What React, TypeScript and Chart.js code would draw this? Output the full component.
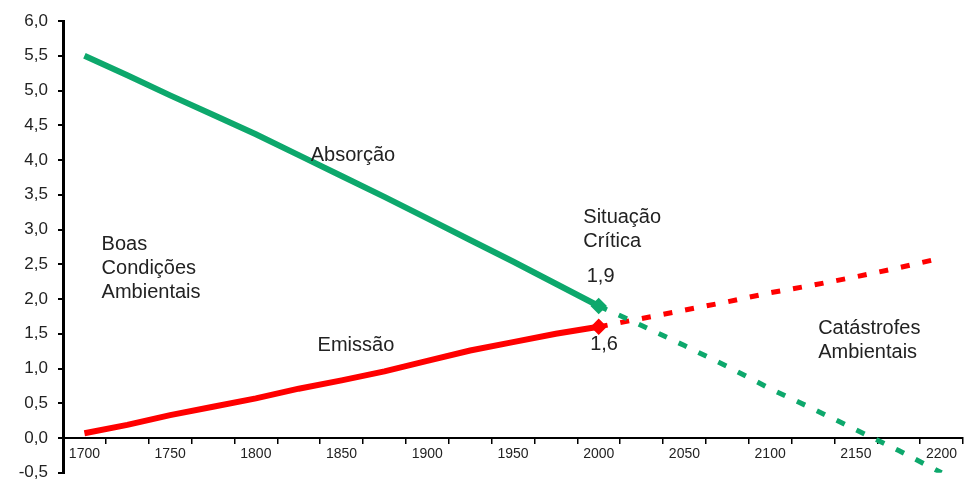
import React, { useEffect, useRef } from "react";
import { Chart, registerables } from "chart.js";

Chart.register(...registerables);

// Categories every 25 years (labels shown every 50 years)
const years = [1700, 1725, 1750, 1775, 1800, 1825, 1850, 1875, 1900, 1925, 1950, 1975, 2000, 2025, 2050, 2075, 2100, 2125, 2150, 2175, 2200];

// Absorção (green)
const absorcaoHistorico = [5.5, 5.22, 4.93, 4.65, 4.37, 4.07, 3.77, 3.47, 3.16, 2.85, 2.54, 2.22, 1.9, null, null, null, null, null, null, null, null];
const absorcaoProjecao = [null, null, null, null, null, null, null, null, null, null, null, null, 1.9, 1.62, 1.33, 1.03, 0.71, 0.42, 0.12, -0.18, -0.5];

// Emissão (red)
const emissaoHistorico = [0.07, 0.19, 0.33, 0.45, 0.57, 0.71, 0.83, 0.96, 1.11, 1.26, 1.38, 1.5, 1.6, null, null, null, null, null, null, null, null];
const emissaoProjecao = [null, null, null, null, null, null, null, null, null, null, null, null, 1.6, 1.72, 1.84, 1.96, 2.09, 2.2, 2.32, 2.45, 2.59];

const yTicks = [-0.5, 0, 0.5, 1, 1.5, 2, 2.5, 3, 3.5, 4, 4.5, 5, 5.5, 6];

// Text annotations anchored in data coordinates (year, value)
const annotations = [
  { lines: ["Absorção"], year: 1832, value: 4.06 },
  { lines: ["Boas", "Condições", "Ambientais"], year: 1710, value: 2.78 },
  { lines: ["Situação", "Crítica"], year: 1991, value: 3.18 },
  { lines: ["1,9"], year: 1993, value: 2.32 },
  { lines: ["1,6"], year: 1995, value: 1.34 },
  { lines: ["Emissão"], year: 1836, value: 1.33 },
  { lines: ["Catástrofes", "Ambientais"], year: 2128, value: 1.58 },
];

const GREEN = "#0DA86C";
const RED = "#FF0000";
const FONT = "'Liberation Sans', Arial, sans-serif";

const annotationPlugin = {
  id: "textAnnotations",
  afterDatasetsDraw(chart: any) {
    const { ctx, scales } = chart;
    const x = scales.x;
    const y = scales.y;
    ctx.save();
    ctx.fillStyle = "#222";
    ctx.font = `20px ${FONT}`;
    ctx.textAlign = "left";
    ctx.textBaseline = "middle";
    annotations.forEach((a) => {
      const px = x.getPixelForValue((a.year - years[0]) / 25);
      const py = y.getPixelForValue(a.value);
      a.lines.forEach((line, i) => {
        ctx.fillText(line, px, py + i * 24);
      });
    });
    ctx.restore();
  },
};

export default function App() {
  const canvasRef = useRef<HTMLCanvasElement | null>(null);

  useEffect(() => {
    if (!canvasRef.current) return;
    const endPoint = (ctx: any) => (ctx.dataIndex === 12 ? 4 : 0);
    const chart = new Chart(canvasRef.current, {
      type: "line",
      data: {
        labels: years.map(String),
        datasets: [
          {
            data: absorcaoHistorico,
            borderColor: GREEN,
            backgroundColor: GREEN,
            borderWidth: 6,
            pointRadius: endPoint,
            pointStyle: "rectRot",
            tension: 0,
          },
          {
            data: absorcaoProjecao,
            borderColor: GREEN,
            borderWidth: 5,
            borderDash: [9, 13],
            pointRadius: 0,
            tension: 0,
          },
          {
            data: emissaoHistorico,
            borderColor: RED,
            backgroundColor: RED,
            borderWidth: 6,
            pointRadius: endPoint,
            pointStyle: "rectRot",
            tension: 0,
          },
          {
            data: emissaoProjecao,
            borderColor: RED,
            borderWidth: 5,
            borderDash: [9, 13],
            pointRadius: 0,
            tension: 0,
          },
        ],
      },
      options: {
        animation: false,
        responsive: false,
        layout: { padding: { left: 0, right: 2, top: 21, bottom: 0 } },
        plugins: {
          legend: { display: false },
          tooltip: { enabled: false },
        },
        scales: {
          x: {
            type: "category",
            position: { y: 0 },
            offset: true,
            grid: {
              offset: true,
              drawOnChartArea: false,
              drawTicks: true,
              tickLength: 5,
              color: "#000",
              lineWidth: 1.5,
            },
            border: { display: true, color: "#000", width: 2 },
            ticks: {
              autoSkip: false,
              maxRotation: 0,
              minRotation: 0,
              padding: 3,
              color: "#222",
              font: { family: FONT, size: 14 },
              callback: (_v: any, i: number) => (i % 2 === 0 ? String(years[i]) : ""),
            },
          },
          y: {
            type: "linear",
            min: -0.5,
            max: 6,
            afterBuildTicks: (scale: any) => {
              scale.ticks = yTicks.map((v) => ({ value: v }));
            },
            afterFit: (scale: any) => {
              scale.width = 63;
            },
            grid: {
              drawOnChartArea: false,
              drawTicks: true,
              tickLength: 5,
              color: "#000",
              lineWidth: 2,
            },
            border: { display: true, color: "#000", width: 3 },
            ticks: {
              padding: 10,
              color: "#222",
              font: { family: FONT, size: 17 },
              callback: (v: any) => Number(v).toFixed(1).replace(".", ","),
            },
          },
        },
      },
      plugins: [annotationPlugin],
    });
    return () => chart.destroy();
  }, []);

  return (
    <div style={{ position: "fixed", left: 0, top: 0, width: 965, height: 479, overflow: "hidden", background: "#fff" }}>
      <canvas ref={canvasRef} width={965} height={493} style={{ display: "block" }} />
    </div>
  );
}
